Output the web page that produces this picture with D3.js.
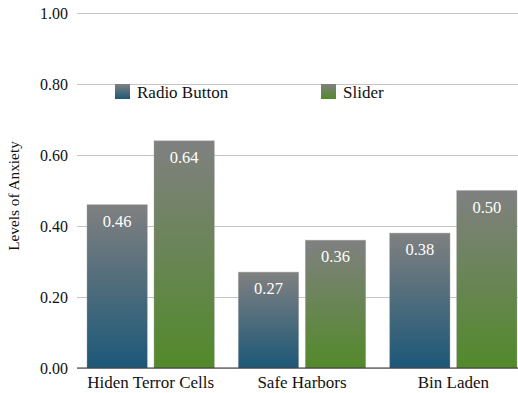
<!DOCTYPE html>
<html>
<head>
<meta charset="utf-8">
<script src="https://cdn.jsdelivr.net/npm/d3@7"></script>
<style>
  html, body { margin: 0; padding: 0; background: #fff; }
</style>
</head>
<body>
<svg id="chart" width="518" height="393"></svg>
<script>
// Anxiety levels by question type and input control
const categories = ["Hiden Terror Cells", "Safe Harbors", "Bin Laden"];
const seriesNames = ["Radio Button", "Slider"];
const radioButton = [0.46, 0.27, 0.38];
const slider = [0.64, 0.36, 0.50];
const yTicks = [0, 0.2, 0.4, 0.6, 0.8, 1.0];

const seriesValues = [radioButton, slider];
const bottomColors = ["#1c5878", "#528a2a"];
const topColor = "#808080";
const FONT = "'Liberation Serif', 'Times New Roman', serif";

const svg = d3.select("#chart");
const plot = { left: 77, right: 518, top: 13, bottom: 368 };

const y = d3.scaleLinear().domain([0, 1]).range([plot.bottom, plot.top]);
const x0 = d3.scaleBand().domain(categories).range([75, 529]).padding(0);
const x1 = d3.scaleBand().domain(seriesNames).range([12, x0.bandwidth() - 12]).paddingInner(0.1);

// vertical gradients: gray at the top fading into each series colour
const defs = svg.append("defs");
seriesNames.forEach((s, i) => {
  const g = defs.append("linearGradient")
    .attr("id", "grad" + i)
    .attr("x1", 0).attr("y1", 0).attr("x2", 0).attr("y2", 1);
  g.append("stop").attr("offset", "0%").attr("stop-color", topColor);
  g.append("stop").attr("offset", "100%").attr("stop-color", bottomColors[i]);
});

// gridlines and y tick labels
const yAxis = d3.axisLeft(y).tickValues(yTicks).tickFormat(d3.format(".2f"))
  .tickSize(-(plot.right - plot.left)).tickPadding(9);
const gy = svg.append("g").attr("transform", `translate(${plot.left},0)`).call(yAxis);
gy.attr("font-family", FONT).attr("font-size", 16);
gy.select(".domain").remove();
gy.selectAll(".tick line").attr("stroke", "#c4c4c4").attr("stroke-width", 1);
gy.selectAll(".tick text").attr("fill", "#111").attr("dy", 5);

// y axis title
svg.append("text")
  .attr("transform", `translate(19,196) rotate(-90)`)
  .attr("text-anchor", "middle")
  .attr("fill", "#111")
  .attr("font-family", FONT)
  .attr("font-size", 15.3)
  .text("Levels of Anxiety");

// bars
const rows = categories.map((c, ci) => ({
  category: c,
  values: seriesNames.map((s, si) => ({ series: s, si, value: seriesValues[si][ci] }))
}));

const groups = svg.append("g").selectAll("g").data(rows).join("g")
  .attr("transform", d => `translate(${x0(d.category)},0)`);

groups.selectAll("rect").data(d => d.values).join("rect")
  .attr("x", d => x1(d.series))
  .attr("y", d => y(d.value))
  .attr("width", x1.bandwidth())
  .attr("height", d => y(0) - y(d.value))
  .attr("fill", d => `url(#grad${d.si})`)
  .attr("stroke", "rgba(160,160,160,0.5)")
  .attr("stroke-width", 0.8);

groups.selectAll("text.val").data(d => d.values).join("text")
  .attr("class", "val")
  .attr("x", d => x1(d.series) + x1.bandwidth() / 2)
  .attr("y", d => y(d.value) + 22)
  .attr("text-anchor", "middle")
  .attr("fill", "#fff")
  .attr("font-family", FONT)
  .attr("font-size", 16.5)
  .text(d => d3.format(".2f")(d.value));

// x axis baseline and category labels
const xAxis = d3.axisBottom(x0).tickSize(0).tickPadding(8);
const gx = svg.append("g").attr("transform", `translate(0,${plot.bottom})`).call(xAxis);
gx.attr("font-family", FONT).attr("font-size", 17);
gx.select(".domain").remove();
gx.append("line").attr("x1", plot.left).attr("x2", plot.right)
  .attr("y1", 0).attr("y2", 0).attr("stroke", "#333").attr("stroke-width", 1.2);
gx.selectAll(".tick text").attr("fill", "#111");

// legend
const legendX = [115, 321];
const legend = svg.append("g").selectAll("g").data(seriesNames).join("g")
  .attr("transform", (d, i) => `translate(${legendX[i]},84)`);
legend.append("rect").attr("width", 15).attr("height", 15)
  .attr("fill", (d, i) => `url(#grad${i})`);
legend.append("text").attr("x", 22).attr("y", 13.5)
  .attr("fill", "#111").attr("font-family", FONT).attr("font-size", 17).text(d => d);
</script>
</body>
</html>
